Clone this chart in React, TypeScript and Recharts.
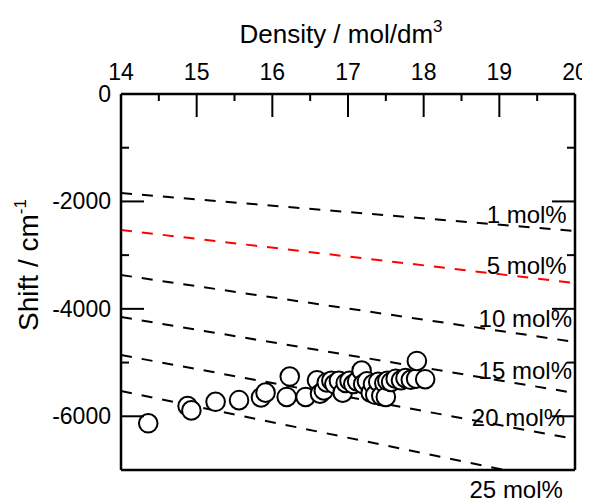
import React from "react";
import {
  ComposedChart,
  XAxis,
  YAxis,
  Line,
  Scatter,
  ReferenceDot,
  Customized,
} from "recharts";

// Measured points: density (mol/dm3) and shift (cm-1)
const density = [
  14.36, 14.88, 14.93, 15.25, 15.56, 15.85, 15.91, 16.19, 16.23, 16.44,
  16.59, 16.63, 16.68, 16.72, 16.78, 16.82, 16.88, 16.93, 16.97, 17.02,
  17.07, 17.12, 17.18, 17.2, 17.25, 17.3, 17.33, 17.36, 17.4, 17.44,
  17.48, 17.5, 17.52, 17.57, 17.63, 17.7, 17.76, 17.83, 17.9, 17.91, 18.02,
];
const shift = [
  -6130, -5810, -5890, -5730, -5700, -5650, -5560, -5640, -5260, -5640,
  -5330, -5580, -5520, -5370, -5340, -5400, -5340, -5560, -5380, -5340,
  -5400, -5350, -5150, -5400, -5350, -5560, -5400, -5600, -5360, -5620,
  -5380, -5640, -5340, -5360, -5300, -5330, -5290, -5320, -5300, -4970, -5310,
];

// Model lines: shift at density 14 and 20 for each concentration
const lineNames = ["1 mol%", "5 mol%", "10 mol%", "15 mol%", "20 mol%", "25 mol%"];
const lineStart = [-1843, -2532, -3370, -4152, -4860, -5530];
const lineEnd = [-2550, -3519, -4617, -5567, -6424, -7270];
const lineColors = ["#000", "#ff0000", "#000", "#000", "#000", "#000"];

// Label anchors (data coords, text end / baseline)
const labelX = [19.89, 19.89, 19.96, 19.96, 19.87, 19.84];
const labelY = [-2402, -3351, -4338, -5306, -6181, -7522];

const xTicks = [14, 14.5, 15, 15.5, 16, 16.5, 17, 17.5, 18, 18.5, 19, 19.5, 20];
const yTicks = [-7000, -6000, -5000, -4000, -3000, -2000, -1000, 0];

const points = density.map((d, i) => ({ x: d, y: shift[i] }));
const lines = lineNames.map((n, i) => ({
  name: n,
  color: lineColors[i],
  data: [
    { x: 14, y: lineStart[i] },
    { x: 20, y: lineEnd[i] },
  ],
}));

const FONT = "'Liberation Sans', Arial, Helvetica, sans-serif";
const MAJOR = 23;

const TopTick = (p: any) => {
  const v = p.payload.value;
  const major = Number.isInteger(v);
  return (
    <g>
      <line x1={p.x} x2={p.x} y1={p.y} y2={p.y + (major ? MAJOR : 7)} stroke="#000" strokeWidth={2} />
      {major && (
        <text x={p.x} y={p.y - 14} textAnchor="middle" fontSize={23} fontFamily={FONT} fill="#000">
          {v}
        </text>
      )}
    </g>
  );
};

const BottomTick = (p: any) => {
  const v = p.payload.value;
  const major = Number.isInteger(v);
  return <line x1={p.x} x2={p.x} y1={p.y} y2={p.y - (major ? MAJOR : 12)} stroke="#000" strokeWidth={2} />;
};

const LeftTick = (p: any) => {
  const v = p.payload.value;
  const major = v % 2000 === 0;
  return (
    <g>
      <line x1={p.x} x2={p.x + (major ? MAJOR : 8)} y1={p.y} y2={p.y} stroke="#000" strokeWidth={2} />
      {major && (
        <text x={p.x - 10} y={p.y + 8} textAnchor="end" fontSize={23} fontFamily={FONT} fill="#000">
          {v}
        </text>
      )}
    </g>
  );
};

const RightTick = (p: any) => {
  const v = p.payload.value;
  const major = v % 2000 === 0;
  return <line x1={p.x} x2={p.x - (major ? MAJOR : 8)} y1={p.y} y2={p.y} stroke="#000" strokeWidth={2} />;
};

const Circle = (p: any) => (
  <circle cx={p.cx} cy={p.cy} r={9.3} fill="#fff" stroke="#000" strokeWidth={2} />
);

const Titles = () => (
  <g fontFamily={FONT} fill="#000">
    <text x={333} y={35} textAnchor="middle" fontSize={26}>
      Density / mol/dm
      <tspan fontSize={17} dy={-11}>3</tspan>
    </text>
    <text x={30} y={257} transform="rotate(-90 30 257)" textAnchor="middle" fontSize={28}>
      Shift / cm
      <tspan fontSize={17} dy={-12}>-1</tspan>
    </text>
  </g>
);

export default function App() {
  return (
    <div style={{ width: 582, height: 496, overflow: "visible" }}>
      <style>
        {"html,body{overflow:hidden} #root{width:582px;height:496px;overflow:visible} .recharts-wrapper,.recharts-surface{overflow:visible !important}"}
      </style>
      <ComposedChart
        width={574}
        height={488}
        margin={{ top: 85, left: 112, right: 6, bottom: 25 }}
        style={{ fontFamily: FONT, overflow: "visible" }}
      >
        <XAxis
          xAxisId={0}
          type="number"
          dataKey="x"
          orientation="top"
          domain={[14, 20]}
          ticks={xTicks}
          interval={0}
          height={1}
          tickSize={0}
          tickMargin={0}
          tickLine={false}
          tick={<TopTick />}
          axisLine={{ stroke: "#000", strokeWidth: 2.5 }}
          allowDataOverflow
        />
        <XAxis
          xAxisId="b"
          type="number"
          orientation="bottom"
          domain={[14, 20]}
          ticks={xTicks}
          interval={0}
          height={1}
          tickSize={0}
          tickMargin={0}
          tickLine={false}
          tick={<BottomTick />}
          axisLine={{ stroke: "#000", strokeWidth: 2.5 }}
          allowDataOverflow
        />
        <YAxis
          yAxisId={0}
          type="number"
          dataKey="y"
          domain={[-7000, 0]}
          ticks={yTicks}
          interval={0}
          width={1}
          tickSize={0}
          tickMargin={0}
          tickLine={false}
          tick={<LeftTick />}
          axisLine={{ stroke: "#000", strokeWidth: 2.5 }}
          allowDataOverflow
        />
        <YAxis
          yAxisId="r"
          type="number"
          orientation="right"
          domain={[-7000, 0]}
          ticks={yTicks}
          interval={0}
          width={1}
          tickSize={0}
          tickMargin={0}
          tickLine={false}
          tick={<RightTick />}
          axisLine={{ stroke: "#000", strokeWidth: 2.5 }}
          allowDataOverflow
        />
        {lines.map((l) => (
          <Line
            key={l.name}
            xAxisId={0}
            yAxisId={0}
            data={l.data}
            dataKey="y"
            stroke={l.color}
            strokeWidth={2}
            strokeDasharray="11 10"
            dot={false}
            activeDot={false}
            isAnimationActive={false}
          />
        ))}
        <Scatter
          xAxisId={0}
          yAxisId={0}
          data={points}
          dataKey="y"
          shape={<Circle />}
          isAnimationActive={false}
        />
        {lineNames.map((n, i) => (
          <ReferenceDot
            key={n}
            xAxisId={0}
            yAxisId={0}
            x={labelX[i]}
            y={labelY[i]}
            ifOverflow="visible"
            shape={(p: any) => (
              <text x={p.cx} y={p.cy} textAnchor="end" fontSize={24} fontFamily={FONT} fill="#000">
                {n}
              </text>
            )}
          />
        ))}
        <Customized component={Titles} />
      </ComposedChart>
    </div>
  );
}
